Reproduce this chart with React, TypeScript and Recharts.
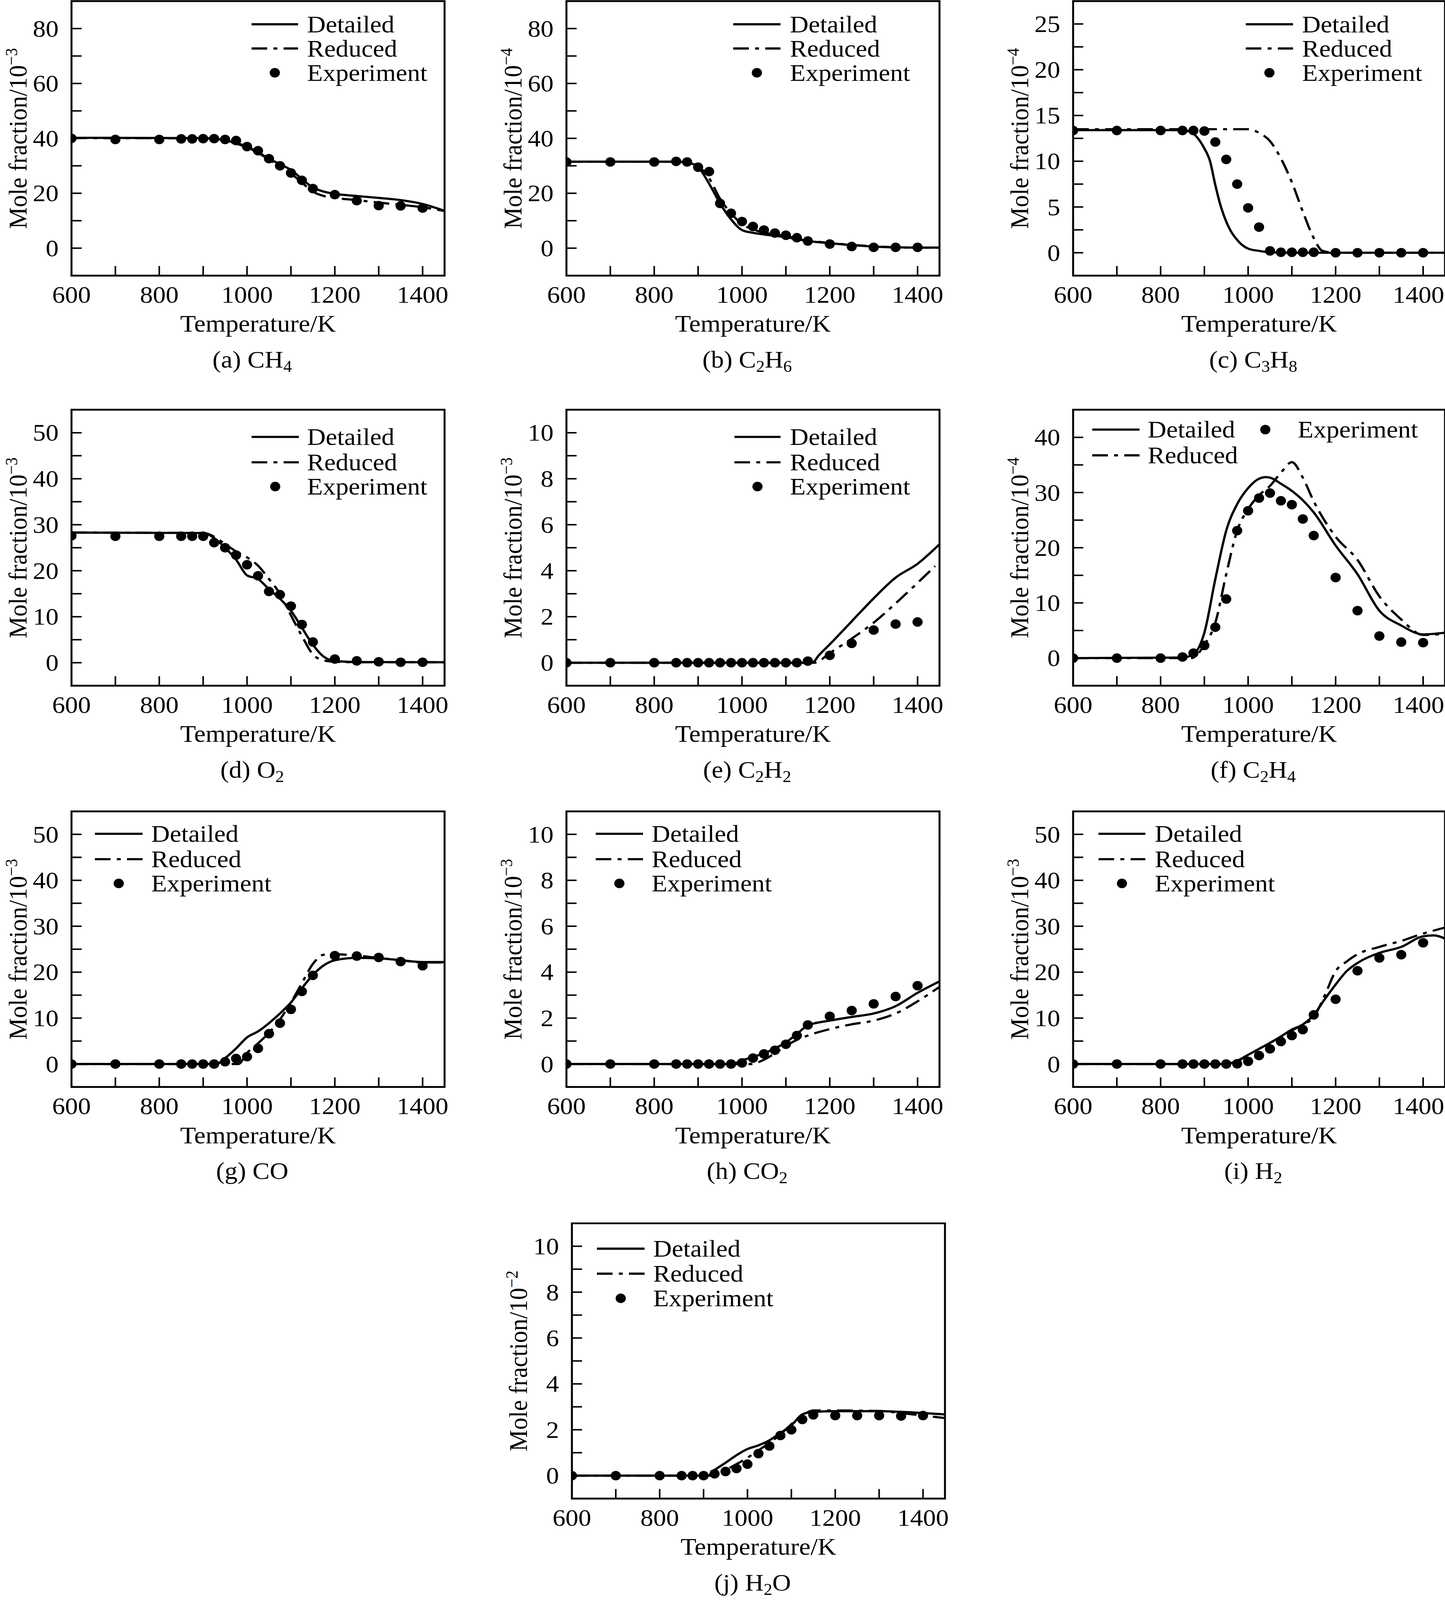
import React from "react";
import {
  ComposedChart,
  Line,
  Scatter,
  XAxis,
  YAxis,
  ReferenceArea,
  Legend,
} from "recharts";

const FONT = '"Liberation Serif", "Times New Roman", serif';
const INK = "#000";
const FS = 66;
const TICK = 26;
const AX_W = 220; // room left of the plot for ticks + title
const AX_H = 300; // room under the plot for ticks, title and caption
const TOP_PAD = 10;
const PAGE_W = 3699;
const PAGE_H = 4354;
const DASH_DOT = "40 16 10 16";

// temperatures of the experimental points (same for every species)
const expT = [600, 700, 800, 850, 875, 900, 925, 950, 975, 1000, 1025, 1050, 1075, 1100, 1125, 1150, 1200, 1250, 1300, 1350, 1400];
const xTicks = [600, 700, 800, 900, 1000, 1100, 1200, 1300, 1400];
const legendLabels = ["Detailed", "Reduced", "Experiment"];

const yTicks80 = [0, 10, 20, 30, 40, 50, 60, 70, 80];
const yTicks25 = [0, 2.5, 5, 7.5, 10, 12.5, 15, 17.5, 20, 22.5, 25];
const yTicks50 = [0, 5, 10, 15, 20, 25, 30, 35, 40, 45, 50];
const yTicks40 = [0, 5, 10, 15, 20, 25, 30, 35, 40];
const yTicks10 = [0, 1, 2, 3, 4, 5, 6, 7, 8, 9, 10];

// (a) CH4
const aT = [600, 900, 925, 950, 975, 1000, 1025, 1050, 1075, 1100, 1125, 1150, 1175, 1200, 1250, 1300, 1350, 1400, 1450];
const aDet = [40.2, 40.1, 39.9, 39.3, 38.3, 37.0, 35.0, 32.6, 30.6, 28.5, 25.2, 22.1, 20.6, 19.8, 19.0, 18.3, 17.5, 16.1, 13.6];
const aRed = [40.1, 40.0, 39.8, 39.2, 38.1, 36.7, 34.7, 32.3, 29.8, 27.2, 23.9, 20.6, 19.0, 18.3, 17.5, 16.6, 15.8, 14.9, 13.5];
const aExp = [40.0, 39.6, 39.6, 39.8, 39.8, 39.9, 39.9, 39.6, 39.2, 37.0, 35.5, 32.6, 30.0, 27.4, 24.7, 21.7, 19.5, 17.3, 15.5, 15.4, 14.6];

// (b) C2H6
const bT = [600, 850, 875, 900, 925, 950, 975, 1000, 1025, 1050, 1100, 1150, 1200, 1250, 1300, 1350, 1400, 1450];
const bDet = [31.5, 31.5, 31.2, 29.5, 23.5, 16.3, 10.5, 6.6, 5.6, 5.0, 4.0, 2.6, 1.8, 1.1, 0.6, 0.3, 0.2, 0.2];
const bRed = [31.5, 31.5, 31.3, 29.9, 25.5, 18.0, 12.7, 8.8, 6.8, 5.7, 4.4, 2.8, 1.9, 1.2, 0.7, 0.3, 0.2, 0.2];
const bExp = [31.4, 31.4, 31.4, 31.6, 31.4, 29.5, 27.9, 16.3, 12.7, 9.7, 7.9, 6.6, 5.5, 4.7, 3.8, 2.6, 1.5, 0.6, 0.3, 0.3, 0.3];

// (c) C3H8
const cDetT = [600, 850, 875, 890, 900, 913, 925, 938, 950, 960, 975, 985, 1000, 1025, 1050, 1100, 1450];
const cDet = [13.4, 13.4, 13.0, 12.2, 11.4, 10.0, 7.4, 5.0, 3.4, 2.4, 1.4, 0.9, 0.45, 0.2, 0.05, 0, 0];
const cRedT = [600, 1000, 1025, 1050, 1075, 1100, 1125, 1150, 1170, 1200, 1450];
const cRed = [13.5, 13.5, 13.1, 12.2, 10.3, 7.7, 4.5, 1.6, 0.2, 0, 0];
const cExp = [13.36, 13.36, 13.36, 13.36, 13.36, 13.3, 12.1, 10.2, 7.5, 4.9, 2.8, 0.2, 0.05, 0.05, 0.05, 0.05, 0, 0, 0, 0, 0];

// (d) O2
const dT = [600, 900, 925, 950, 975, 1000, 1025, 1050, 1075, 1100, 1125, 1150, 1175, 1200, 1250, 1450];
const dDet = [28.3, 28.2, 27.1, 25.0, 22.4, 19.0, 18.2, 16.0, 13.9, 11.3, 7.6, 3.9, 1.3, 0.4, 0.15, 0.1];
const dRed = [28.3, 28.2, 27.4, 25.8, 24.2, 22.9, 21.1, 18.2, 15.0, 10.3, 5.8, 1.8, 0.5, 0.2, 0.1, 0.1];
const dExp = [27.6, 27.5, 27.5, 27.5, 27.5, 27.5, 26.1, 25.0, 23.4, 21.3, 18.9, 15.5, 14.8, 12.3, 8.3, 4.5, 0.8, 0.4, 0.2, 0.1, 0.1];

// (e) C2H2
const eDetT = [600, 1160, 1175, 1200, 1250, 1300, 1350, 1400, 1450];
const eDet = [0, 0, 0.32, 0.8, 1.8, 2.8, 3.7, 4.3, 5.15];
const eRedT = [600, 1165, 1200, 1250, 1300, 1350, 1400, 1440];
const eRed = [0, 0, 0.42, 1.05, 1.74, 2.58, 3.47, 4.2];
const eExp = [0, 0, 0, 0, 0, 0, 0, 0, 0, 0, 0, 0, 0, 0, 0, 0.07, 0.32, 0.84, 1.42, 1.68, 1.77];

// (f) C2H4
const fDetT = [600, 850, 875, 900, 925, 950, 975, 1000, 1025, 1040, 1050, 1075, 1100, 1125, 1150, 1200, 1250, 1300, 1350, 1400, 1450];
const fDet = [0, 0.1, 0.7, 4.6, 14.3, 23.1, 27.9, 30.8, 32.5, 32.8, 32.7, 31.6, 30.3, 28.6, 26.4, 20.4, 15.2, 8.6, 5.9, 4.3, 4.6];
const fRedT = [600, 870, 900, 925, 950, 975, 1000, 1025, 1050, 1075, 1100, 1125, 1150, 1200, 1250, 1300, 1350, 1400, 1450];
const fRed = [0, 0, 2.4, 6.4, 15.2, 23.1, 27.0, 29.5, 31.2, 33.6, 35.5, 32.7, 28.4, 22.0, 17.8, 11.2, 7.0, 4.2, 4.4];
const fExp = [0, 0, 0, 0.2, 0.9, 2.3, 5.6, 10.7, 23.1, 26.7, 29.0, 29.9, 28.5, 27.8, 25.2, 22.2, 14.6, 8.6, 4.0, 2.9, 2.8];

// (g) CO
const gDetT = [600, 930, 950, 975, 1000, 1025, 1050, 1075, 1100, 1125, 1150, 1175, 1200, 1250, 1300, 1350, 1400, 1450];
const gDet = [0, 0, 1.3, 3.4, 5.8, 7.1, 8.9, 11.0, 13.4, 16.5, 19.4, 21.5, 22.6, 23.1, 23.0, 22.6, 22.2, 22.2];
const gRedT = [600, 980, 1000, 1025, 1050, 1075, 1100, 1125, 1150, 1175, 1200, 1250, 1300, 1350, 1400, 1450];
const gRed = [0, 0, 2.4, 4.5, 6.8, 9.7, 13.4, 17.6, 21.8, 23.8, 23.9, 23.6, 23.1, 22.6, 22.1, 22.1];
const gExp = [0, 0, 0, 0, 0, 0, 0, 0.5, 1.2, 1.6, 3.4, 6.6, 8.9, 11.9, 15.8, 19.3, 23.6, 23.5, 23.2, 22.3, 21.4];

// (h) CO2
const hDetT = [600, 975, 1000, 1025, 1050, 1075, 1100, 1125, 1150, 1200, 1250, 1300, 1350, 1400, 1450];
const hDet = [0, 0, 0.16, 0.31, 0.47, 0.68, 0.94, 1.31, 1.68, 1.89, 2.05, 2.2, 2.52, 3.1, 3.6];
const hRedT = [600, 1020, 1050, 1075, 1100, 1125, 1150, 1200, 1250, 1300, 1350, 1400, 1450];
const hRed = [0, 0, 0.19, 0.47, 0.79, 1.05, 1.24, 1.52, 1.73, 1.89, 2.2, 2.73, 3.36];
const hExp = [0, 0, 0, 0, 0, 0, 0, 0, 0, 0.05, 0.26, 0.44, 0.6, 0.86, 1.24, 1.7, 2.08, 2.33, 2.62, 2.94, 3.41];

// (i) H2
const iDetT = [600, 950, 975, 1000, 1025, 1050, 1075, 1100, 1125, 1150, 1175, 1200, 1225, 1250, 1300, 1350, 1400, 1425, 1450];
const iDet = [0, 0, 0.7, 2.0, 3.3, 4.6, 6.0, 7.5, 8.6, 10.7, 14.1, 17.3, 20.2, 22.0, 24.2, 25.5, 27.8, 28.0, 27.3];
const iRedT = [600, 960, 1000, 1050, 1100, 1125, 1150, 1175, 1200, 1225, 1250, 1300, 1350, 1400, 1450];
const iRed = [0, 0, 2.0, 4.6, 7.3, 8.6, 10.2, 14.9, 20.2, 22.3, 23.9, 25.5, 26.8, 28.4, 29.7];
const iExp = [0, 0, 0, 0, 0, 0, 0, 0, 0.05, 0.58, 1.85, 3.3, 4.9, 6.2, 7.5, 10.7, 14.1, 20.3, 23.1, 23.8, 26.4];

// (j) H2O
const jDetT = [600, 910, 925, 950, 975, 1000, 1025, 1050, 1075, 1100, 1125, 1150, 1200, 1300, 1350, 1400, 1450];
const jDet = [0, 0, 0.24, 0.56, 0.89, 1.16, 1.32, 1.54, 1.86, 2.19, 2.67, 2.78, 2.81, 2.81, 2.78, 2.73, 2.67];
const jRedT = [600, 930, 950, 975, 1000, 1025, 1050, 1075, 1100, 1125, 1150, 1200, 1300, 1350, 1400, 1450];
const jRed = [0, 0, 0.24, 0.5, 0.78, 1.1, 1.43, 1.8, 2.24, 2.62, 2.84, 2.84, 2.82, 2.73, 2.62, 2.51];
const jExp = [0, 0, 0, 0, 0, 0, 0.08, 0.18, 0.31, 0.5, 0.96, 1.29, 1.75, 2.0, 2.45, 2.65, 2.62, 2.62, 2.62, 2.6, 2.62];

type Pt = { T: number; v: number };
const zip = (ts: number[], vs: number[]): Pt[] => ts.map((T, i) => ({ T, v: vs[i] }));

type Part = { t: string; sub?: boolean };
type LegendItem = { label: string; kind: "solid" | "dashdot" | "dot"; x1: number; x2: number; tx: number; y: number };

const stdLegend = (x1: number, x2: number, tx: number, rows: number[]): LegendItem[] => [
  { label: legendLabels[0], kind: "solid", x1, x2, tx, y: rows[0] },
  { label: legendLabels[1], kind: "dashdot", x1, x2, tx, y: rows[1] },
  { label: legendLabels[2], kind: "dot", x1, x2, tx, y: rows[2] },
];

const sp = (...xs: (string | [string])[]): Part[] =>
  xs.map((x) => (Array.isArray(x) ? { t: x[0], sub: true } : { t: x }));

const panels = [
  { id: "a", left: 183, top: 3, w: 955, h: 747, domain: [-10, 90], ticks: yTicks80, every: 20, pow: "−3",
    caption: sp("(a) CH", ["4"]), det: zip(aT, aDet), red: zip(aT, aRed), expt: zip(expT, aExp),
    legend: stdLegend(461, 580, 603, [63, 129, 195]) },
  { id: "b", left: 1450, top: 3, w: 955, h: 747, domain: [-10, 90], ticks: yTicks80, every: 20, pow: "−4",
    caption: sp("(b) C", ["2"], "H", ["6"]), det: zip(bT, bDet), red: zip(bT, bRed), expt: zip(expT, bExp),
    legend: stdLegend(427, 548, 572, [63, 129, 195]) },
  { id: "c", left: 2747, top: 3, w: 952, h: 747, domain: [-2.5, 27.5], ticks: yTicks25, every: 5, pow: "−4",
    caption: sp("(c) C", ["3"], "H", ["8"]), det: zip(cDetT, cDet), red: zip(cRedT, cRed), expt: zip(expT, cExp),
    legend: stdLegend(442, 563, 586, [63, 129, 195]) },
  { id: "d", left: 183, top: 1115, w: 955, h: 751, domain: [-5, 55], ticks: yTicks50, every: 10, pow: "−3",
    caption: sp("(d) O", ["2"]), det: zip(dT, dDet), red: zip(dT, dRed), expt: zip(expT, dExp),
    legend: stdLegend(461, 582, 603, [74, 143, 209]) },
  { id: "e", left: 1450, top: 1115, w: 955, h: 751, domain: [-1, 11], ticks: yTicks10, every: 2, pow: "−3",
    caption: sp("(e) C", ["2"], "H", ["2"]), det: zip(eDetT, eDet), red: zip(eRedT, eRed), expt: zip(expT, eExp),
    legend: stdLegend(430, 548, 572, [74, 143, 209]) },
  { id: "f", left: 2747, top: 1115, w: 952, h: 751, domain: [-5, 45], ticks: yTicks40, every: 10, pow: "−4",
    caption: sp("(f) C", ["2"], "H", ["4"]), det: zip(fDetT, fDet), red: zip(fRedT, fRed), expt: zip(expT, fExp),
    legend: [
      { label: legendLabels[0], kind: "solid", x1: 49, x2: 170, tx: 191, y: 54 },
      { label: legendLabels[1], kind: "dashdot", x1: 49, x2: 170, tx: 191, y: 124 },
      { label: legendLabels[2], kind: "dot", x1: 432, x2: 552, tx: 575, y: 54 },
    ] as LegendItem[] },
  { id: "g", left: 183, top: 2208, w: 955, h: 750, domain: [-5, 55], ticks: yTicks50, every: 10, pow: "−3",
    caption: sp("(g) CO"), det: zip(gDetT, gDet), red: zip(gRedT, gRed), expt: zip(expT, gExp),
    legend: stdLegend(60, 182, 204, [61, 130, 196]) },
  { id: "h", left: 1450, top: 2208, w: 955, h: 750, domain: [-1, 11], ticks: yTicks10, every: 2, pow: "−3",
    caption: sp("(h) CO", ["2"]), det: zip(hDetT, hDet), red: zip(hRedT, hRed), expt: zip(expT, hExp),
    legend: stdLegend(75, 196, 218, [61, 130, 196]) },
  { id: "i", left: 2747, top: 2208, w: 952, h: 750, domain: [-5, 55], ticks: yTicks50, every: 10, pow: "−3",
    caption: sp("(i) H", ["2"]), det: zip(iDetT, iDet), red: zip(iRedT, iRed), expt: zip(expT, iExp),
    legend: stdLegend(65, 185, 209, [61, 130, 196]) },
  { id: "j", left: 1464, top: 3329, w: 955, h: 749, domain: [-1, 11], ticks: yTicks10, every: 2, pow: "−2",
    caption: sp("(j) H", ["2"], "O"), det: zip(jDetT, jDet), red: zip(jRedT, jRed), expt: zip(expT, jExp),
    legend: stdLegend(64, 186, 208, [69, 137, 204]) },
];

const isMult = (v: number, step: number) => Math.abs(v / step - Math.round(v / step)) < 1e-6;

function XTick(props: any) {
  const { x, y, payload, limit } = props;
  const v = payload.value;
  // keep the last label inside the page like the original crop does
  const lx = Math.min(x, limit - 68);
  return (
    <g>
      <line x1={x} x2={x} y1={y} y2={y - TICK} stroke={INK} strokeWidth={4} />
      {isMult(v, 200) && (
        <text x={lx} y={y + 74} textAnchor="middle" fontSize={FS} fontFamily={FONT} fill={INK}>
          {v}
        </text>
      )}
    </g>
  );
}

function YTick(props: any) {
  const { x, y, payload, every } = props;
  const v = payload.value;
  return (
    <g>
      <line x1={x} x2={x + TICK} y1={y} y2={y} stroke={INK} strokeWidth={4} />
      {isMult(v, every) && (
        <text x={x - 33} y={y + 22} textAnchor="end" fontSize={FS} fontFamily={FONT} fill={INK}>
          {v}
        </text>
      )}
    </g>
  );
}

function YTitle(props: any) {
  const { viewBox, pow } = props;
  const cx = viewBox.x + viewBox.width - 137;
  const cy = viewBox.y + viewBox.height / 2;
  return (
    <text
      x={cx}
      y={cy + 22}
      transform={`rotate(-90, ${cx}, ${cy})`}
      textAnchor="middle"
      fontSize={FS}
      fontFamily={FONT}
      fill={INK}
    >
      Mole fraction/10
      <tspan fontSize={44} dy={-24}>{pow}</tspan>
    </text>
  );
}

function XTitle(props: any) {
  const { viewBox, caption } = props;
  const cx = viewBox.x + viewBox.width / 2;
  const y = viewBox.y;
  let shifted = false;
  return (
    <g>
      <text x={cx} y={y + 153} textAnchor="middle" fontSize={FS} fontFamily={FONT} fill={INK}>
        Temperature/K
      </text>
      <text x={cx - 15} y={y + 250} textAnchor="middle" fontSize={FS} fontFamily={FONT} fill={INK}>
        {caption.map((c: Part, i: number) => {
          const dy = c.sub ? 12 : shifted ? -12 : 0;
          shifted = !!c.sub;
          return (
            <tspan key={i} dy={dy} fontSize={c.sub ? 44 : FS}>
              {c.t}
            </tspan>
          );
        })}
      </text>
    </g>
  );
}

function PanelLegend(props: any) {
  const { items, ox, oy, w, h } = props;
  return (
    <svg width={w} height={h} style={{ display: "block" }}>
      {items.map((it: LegendItem) => (
        <g key={it.label}>
          {it.kind === "dot" ? (
            <circle cx={ox + (it.x1 + it.x2) / 2} cy={oy + it.y} r={13} fill={INK} />
          ) : (
            <line
              x1={ox + it.x1}
              x2={ox + it.x2}
              y1={oy + it.y}
              y2={oy + it.y}
              stroke={INK}
              strokeWidth={6}
              strokeDasharray={it.kind === "dashdot" ? DASH_DOT : undefined}
            />
          )}
          <text x={ox + it.tx} y={oy + it.y + 22} fontSize={FS} fontFamily={FONT} fill={INK}>
            {it.label}
          </text>
        </g>
      ))}
    </svg>
  );
}

function Panel({ p }: { p: (typeof panels)[number] }) {
  const W = AX_W + p.w + 20;
  const H = TOP_PAD + p.h + AX_H;
  const chartLeft = p.left - AX_W;
  return (
    <div style={{ position: "absolute", left: chartLeft, top: p.top - TOP_PAD, width: W, height: H }}>
      <ComposedChart width={W} height={H} margin={{ top: TOP_PAD, right: 20, bottom: 0, left: 0 }}>
        <XAxis
          type="number"
          dataKey="T"
          domain={[600, 1450]}
          ticks={xTicks}
          interval={0}
          allowDataOverflow
          axisLine={false}
          tickLine={false}
          tickSize={0}
          tickMargin={0}
          height={AX_H}
          tick={<XTick limit={PAGE_W - chartLeft} />}
          label={<XTitle caption={p.caption} />}
        />
        <YAxis
          type="number"
          dataKey="v"
          domain={p.domain}
          ticks={p.ticks}
          interval={0}
          allowDataOverflow
          axisLine={false}
          tickLine={false}
          tickSize={0}
          tickMargin={0}
          width={AX_W}
          tick={<YTick every={p.every} />}
          label={<YTitle pow={p.pow} />}
        />
        <ReferenceArea
          x1={600}
          x2={1450}
          y1={p.domain[0]}
          y2={p.domain[1]}
          fill="none"
          stroke={INK}
          strokeWidth={5}
          ifOverflow="visible"
        />
        <Line
          data={p.det}
          dataKey="v"
          type="monotone"
          stroke={INK}
          strokeWidth={6}
          dot={false}
          isAnimationActive={false}
        />
        <Line
          data={p.red}
          dataKey="v"
          type="monotone"
          stroke={INK}
          strokeWidth={6}
          strokeDasharray={DASH_DOT}
          dot={false}
          isAnimationActive={false}
        />
        <Scatter
          data={p.expt}
          dataKey="v"
          fill={INK}
          isAnimationActive={false}
          shape={(s: any) => <circle cx={s.cx} cy={s.cy} r={13} fill={INK} />}
        />
        <Legend
          layout="vertical"
          align="center"
          verticalAlign="middle"
          wrapperStyle={{ left: 0, top: 0, width: W, height: H, pointerEvents: "none" }}
          content={<PanelLegend items={p.legend} ox={AX_W} oy={TOP_PAD} w={W} h={H} />}
        />
      </ComposedChart>
    </div>
  );
}

export default function App() {
  // the photographed viewport can be a little shorter than the window; fit the figure into it
  const vw = typeof window !== "undefined" ? window.innerWidth : PAGE_W;
  const vh = typeof window !== "undefined" ? window.innerHeight : PAGE_H;
  const sx = Math.min(1, vw / PAGE_W);
  const sy = Math.min(1, vh / PAGE_H);
  return (
    <div
      style={{
        position: "absolute",
        left: 0,
        top: 0,
        width: PAGE_W,
        height: PAGE_H,
        background: "#fff",
        overflow: "hidden",
        transform: `scale(${sx}, ${sy})`,
        transformOrigin: "0 0",
      }}
    >
      {panels.map((p) => (
        <Panel key={p.id} p={p} />
      ))}
    </div>
  );
}
